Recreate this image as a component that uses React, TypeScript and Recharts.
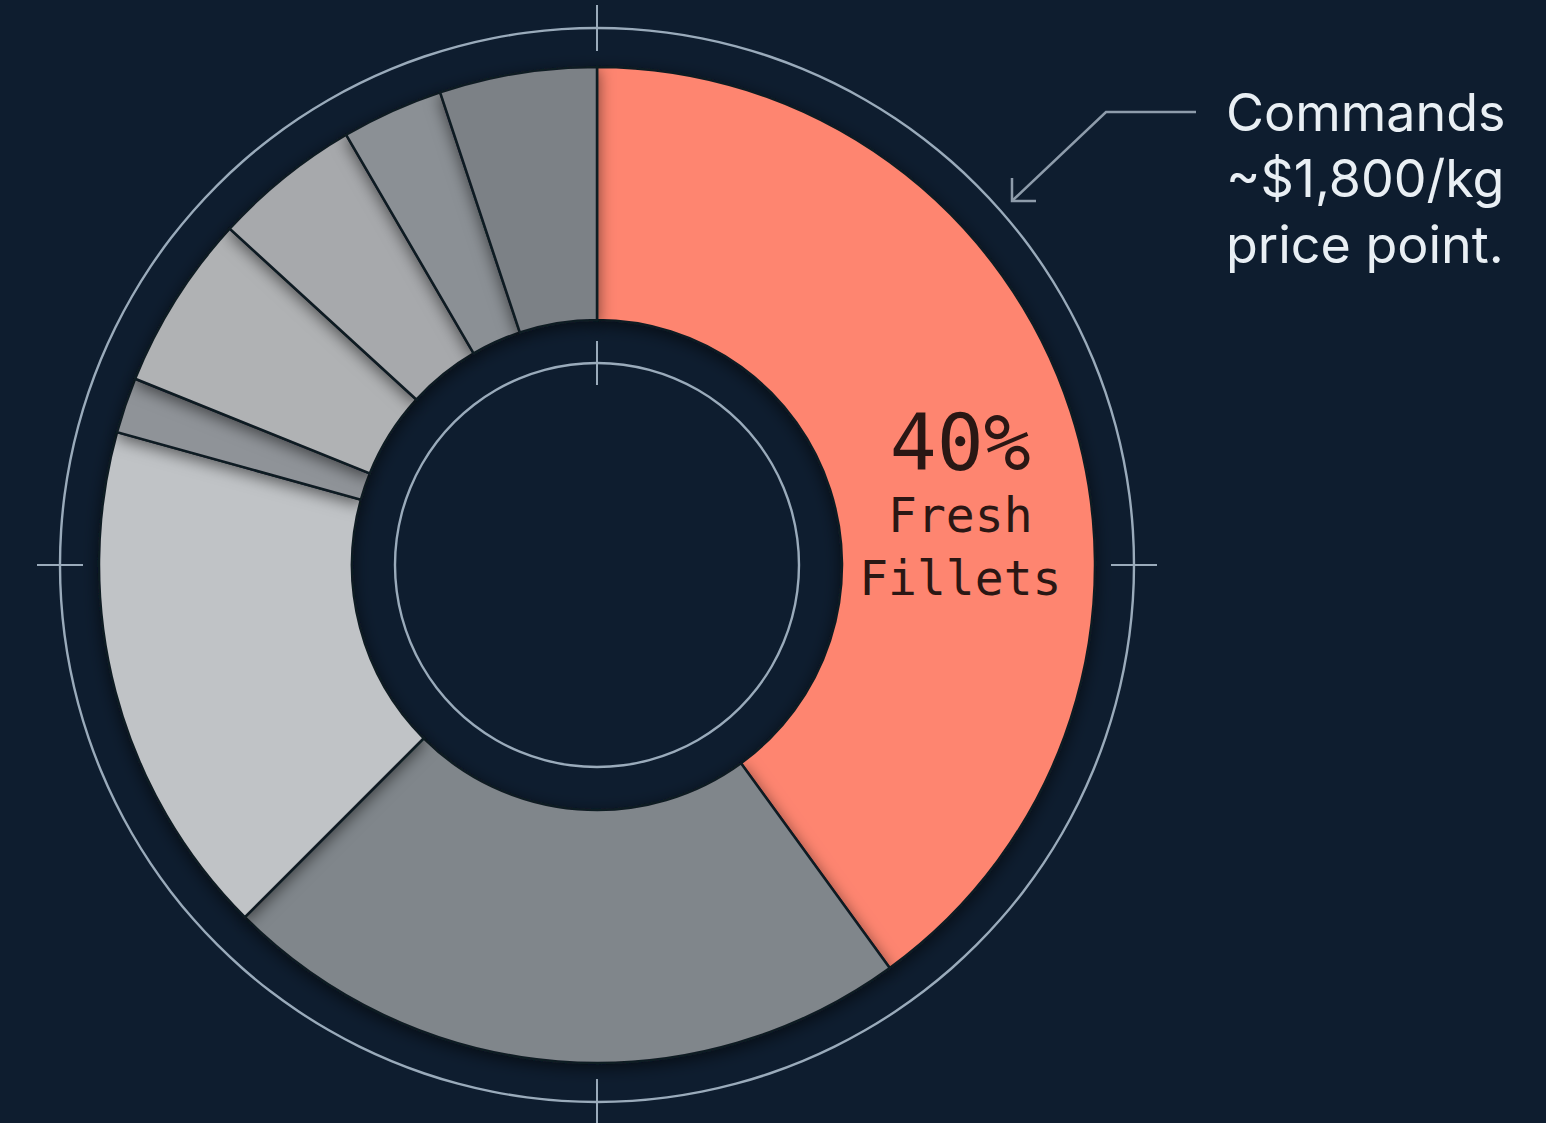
import React from "react";
import { PieChart, Pie, Cell } from "recharts";

// shares, clockwise from 12 o'clock
const segments = ["Fresh Fillets", "Segment 2", "Segment 3", "Segment 4", "Segment 5", "Segment 6", "Segment 7", "Segment 8"];
const shares = [40, 22.5, 16.8, 1.8, 5.7, 4.8, 3.3, 5.1];
const colors = ["#fe8570", "#80868b", "#c0c3c6", "#8f9398", "#b0b2b4", "#a7a9ac", "#8b9095", "#7c8186"];
const calloutLines = ["Commands", "~$1,800/kg", "price point."];
const highlight = { value: "40%", lines: ["Fresh", "Fillets"] };

const data = segments.map((name, i) => ({ name, value: shares[i] }));
const ring = [{ name: "ring", value: 1 }];

const W = 1546;
const H = 1123;
const CX = 597;
const CY = 565;
const BG = "#0e1d2f";
const LINE = "#9aabbb";
const RAD = Math.PI / 180;

function HighlightLabel(props: any) {
  const { cx, cy, midAngle, innerRadius, outerRadius, index } = props;
  if (index !== 0) return null;
  const r = (innerRadius + outerRadius) / 2;
  const x = cx + r * Math.cos(-midAngle * RAD) + 10;
  const y = cy + r * Math.sin(-midAngle * RAD);
  return (
    <g fontFamily="'DejaVu Sans Mono', 'Liberation Mono', monospace" fill="#2a1714" textAnchor="middle">
      <text x={x} y={y + 20} fontSize={78}>{highlight.value}</text>
      {highlight.lines.map((t, i) => (
        <text key={t} x={x} y={y + 82 + i * 63} fontSize={48}>{t}</text>
      ))}
    </g>
  );
}

export default function App() {
  const ringOuter = 537;
  const ringInner = 202;
  return (
    <div style={{ width: W, height: H, background: BG, position: "relative" }}>
      <style>{`body{margin:0;background:${BG};}`}</style>
      <PieChart width={W} height={H} margin={{ top: 0, right: 0, bottom: 0, left: 0 }}>
        <defs>
          <filter id="shadow" x="-20%" y="-20%" width="140%" height="140%">
            <feDropShadow dx="0" dy="4" stdDeviation="8" floodColor="#000" floodOpacity="0.55" />
          </filter>
        </defs>

        {/* thin guide rings */}
        <Pie data={ring} dataKey="value" cx={CX} cy={CY} innerRadius={ringOuter - 1.2} outerRadius={ringOuter + 1.2}
          startAngle={90} endAngle={-270} stroke="none" fill={LINE} isAnimationActive={false} />
        <Pie data={ring} dataKey="value" cx={CX} cy={CY} innerRadius={ringInner - 1.2} outerRadius={ringInner + 1.2}
          startAngle={90} endAngle={-270} stroke="none" fill={LINE} isAnimationActive={false} />

        <Pie
          data={data}
          dataKey="value"
          nameKey="name"
          cx={CX}
          cy={CY}
          innerRadius={245}
          outerRadius={498}
          startAngle={90}
          endAngle={-270}
          stroke="#111a24"
          strokeWidth={2.5}
          style={{ filter: "url(#shadow)" }}
          label={HighlightLabel}
          labelLine={false}
          isAnimationActive={false}
        >
          {data.map((d, i) => (
            <Cell key={d.name} fill={colors[i]} />
          ))}
        </Pie>

        {/* crosshair ticks */}
        <g stroke={LINE} strokeWidth={2}>
          <line x1={CX} x2={CX} y1={CY - ringOuter - 23} y2={CY - ringOuter + 23} />
          <line x1={CX} x2={CX} y1={CY + ringOuter - 23} y2={CY + ringOuter + 23} />
          <line x1={CX - ringOuter - 23} x2={CX - ringOuter + 23} y1={CY} y2={CY} />
          <line x1={CX + ringOuter - 23} x2={CX + ringOuter + 23} y1={CY} y2={CY} />
          <line x1={CX} x2={CX} y1={CY - ringInner - 22} y2={CY - ringInner + 22} />
        </g>

        {/* callout */}
        <g stroke="#8e9cab" strokeWidth={2.5} fill="none">
          <path d="M1196 112 H1106 L1012 201" />
          <path d="M1012 178 V201 H1036" />
        </g>
        <g fontFamily="Inter, 'Noto Sans', sans-serif" fontSize={52} fill="#e9eff4">
          {calloutLines.map((t, i) => (
            <text key={t} x={1226} y={131 + i * 66}>{t}</text>
          ))}
        </g>
      </PieChart>
    </div>
  );
}
